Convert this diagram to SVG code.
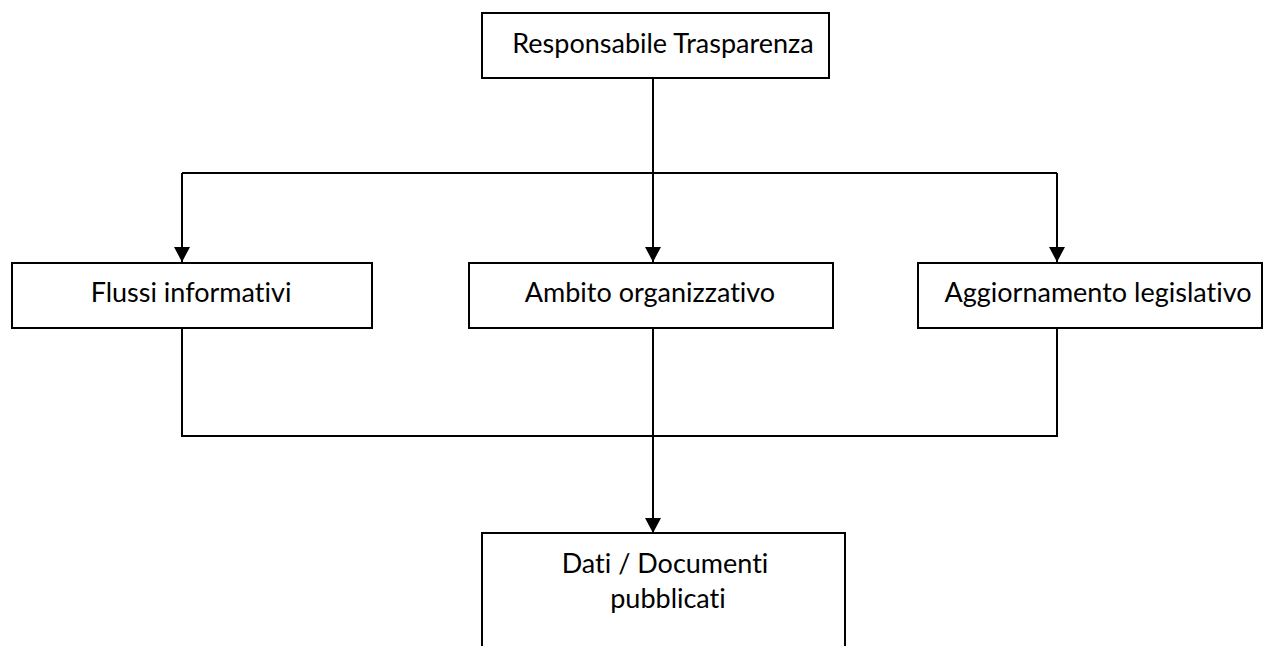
<svg xmlns="http://www.w3.org/2000/svg" width="1264" height="646" viewBox="0 0 1264 646">
  <style>
    .box { fill: #ffffff; stroke: #000000; stroke-width: 2; }
    .lbl { font-family: "Lato", "Open Sans", sans-serif; font-size: 27px; fill: #000000; text-anchor: middle; font-variant-ligatures: none; }
    .wire { fill: none; stroke: #000000; stroke-width: 2; }
  </style>
  <defs>
    <marker id="arrow" markerUnits="userSpaceOnUse" markerWidth="16" markerHeight="17" refX="15" refY="8" orient="auto">
      <path d="M0,0 L15,8 L0,16 Z" fill="#000000"/>
    </marker>
  </defs>
  <rect width="1264" height="646" fill="#ffffff"/>

  <g id="connectors">
    <path class="wire" d="M653,78 V173"/>
    <path class="wire" d="M182,173 H1057"/>
    <path class="wire" d="M182,173 V262" marker-end="url(#arrow)"/>
    <path class="wire" d="M653,173 V262" marker-end="url(#arrow)"/>
    <path class="wire" d="M1057,173 V262" marker-end="url(#arrow)"/>
    <path class="wire" d="M182,328 V436 H1057 V328"/>
    <path class="wire" d="M653,328 V533" marker-end="url(#arrow)"/>
  </g>

  <g id="node-responsabile">
    <rect class="box" x="482" y="13" width="347" height="65"/>
    <text class="lbl" x="663" y="53">Responsabile Trasparenza</text>
  </g>
  <g id="node-flussi">
    <rect class="box" x="12" y="263" width="360" height="65"/>
    <text class="lbl" x="191" y="302">Flussi informativi</text>
  </g>
  <g id="node-ambito">
    <rect class="box" x="469" y="263" width="364" height="65"/>
    <text class="lbl" x="650" y="302">Ambito organizzativo</text>
  </g>
  <g id="node-aggiornamento">
    <rect class="box" x="918" y="263" width="344" height="65"/>
    <text class="lbl" x="1098" y="302">Aggiornamento legislativo</text>
  </g>
  <g id="node-dati">
    <rect class="box" x="482" y="533" width="363" height="130"/>
    <text class="lbl" x="665" y="573">Dati / Documenti</text>
    <text class="lbl" x="668" y="608">pubblicati</text>
  </g>
</svg>
